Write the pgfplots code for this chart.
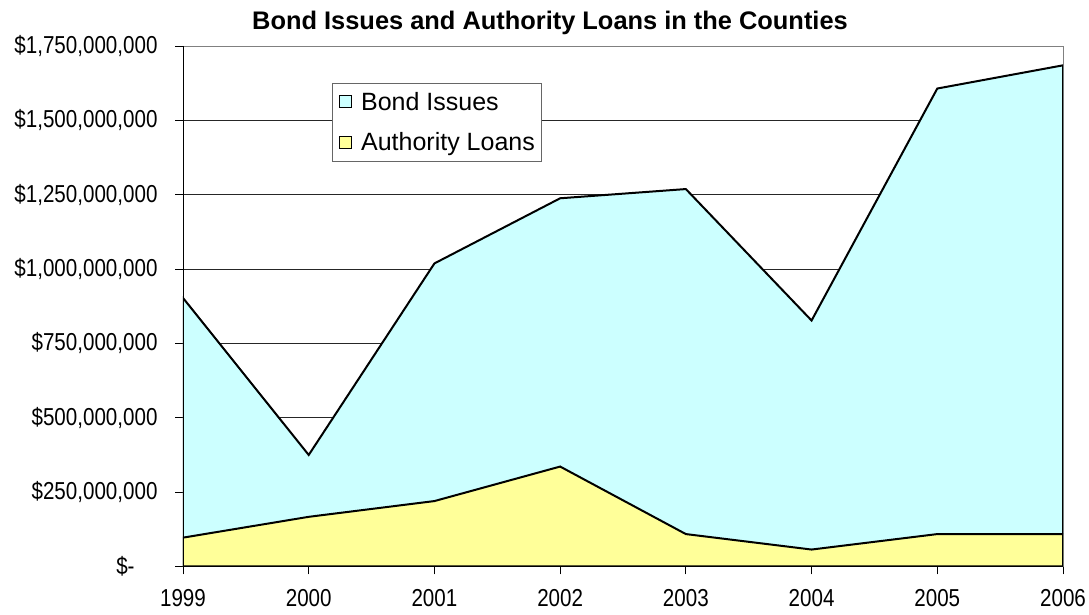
\documentclass[border=0pt]{standalone}
\usepackage{fontspec}
\setmainfont{Liberation Sans}
\newfontfamily\narrowfont[FakeStretch=0.84]{Liberation Sans}
\usepackage{pgfplots}
\pgfplotsset{compat=1.18}
\definecolor{bondfill}{HTML}{CCFFFF}
\definecolor{loanfill}{HTML}{FFFF99}
\begin{document}
\begin{tikzpicture}[x=1pt,y=1pt]
\begin{axis}[
  at={(183pt,48.5pt)}, anchor=south west,
  scale only axis, width=880pt, height=520.5pt,
  xmin=1999, xmax=2006, ymin=0, ymax=1750000000,
  xtick={1999,2000,2001,2002,2003,2004,2005,2006},
  xticklabels={1999,2000,2001,2002,2003,2004,2005,2006},
  ytick={0,250000000,500000000,750000000,1000000000,1250000000,1500000000,1750000000},
  yticklabels={{\$-\hphantom{00}},{\$250,000,000},{\$500,000,000},{\$750,000,000},{\$1,000,000,000},{\$1,250,000,000},{\$1,500,000,000},{\$1,750,000,000}},
  scaled y ticks=false, scaled x ticks=false,
  tick label style={font=\narrowfont\fontsize{24.5}{26}\selectfont},
  xticklabel style={yshift=-11pt},
  yticklabel style={xshift=-14pt},
  ymajorgrids, major grid style={black!85, line width=0.8pt},
  axis line style={draw=gray, line width=0.8pt},
  tick style={black, line width=0.8pt}, major tick length=8pt, tick align=outside,
  tick pos=left,
  legend style={at={(axis description cs:0.169,0.9295)}, anchor=north west,
    draw=gray!80!black, line width=0.8pt, font=\fontsize{25}{27}\selectfont,
    row sep=17pt, inner xsep=5pt, inner ysep=7pt},
  legend cell align=left,
  legend image code/.code={\draw[#1, draw=black, line width=1pt] (2pt,-6pt) rectangle (14pt,6pt); \path[draw=none, fill=none] (0pt,0pt) -- (22pt,0pt);},
]
\addplot[fill=bondfill, draw=black, line width=2pt] coordinates {
 (1999,903000000) (2000,375000000) (2001,1019000000) (2002,1238000000)
 (2003,1269000000) (2004,827000000) (2005,1607000000) (2006,1685000000)
} \closedcycle;
\addlegendentry{Bond Issues}
\addplot[fill=loanfill, draw=black, line width=2pt] coordinates {
 (1999,97000000) (2000,167000000) (2001,220000000) (2002,336000000)
 (2003,109000000) (2004,57000000) (2005,109000000) (2006,109000000)
} \closedcycle;
\addlegendentry{Authority Loans}
\draw[black, line width=0.8pt] (rel axis cs:0,1) -- (rel axis cs:0,0) -- (rel axis cs:1,0);
\end{axis}
\node[font=\bfseries\fontsize{25.4}{27}\selectfont, anchor=base] at (550,585) {Bond Issues and Authority Loans in the Counties};
\pgfresetboundingbox
\path (0,0) rectangle (1089,615);
\end{tikzpicture}
\end{document}
